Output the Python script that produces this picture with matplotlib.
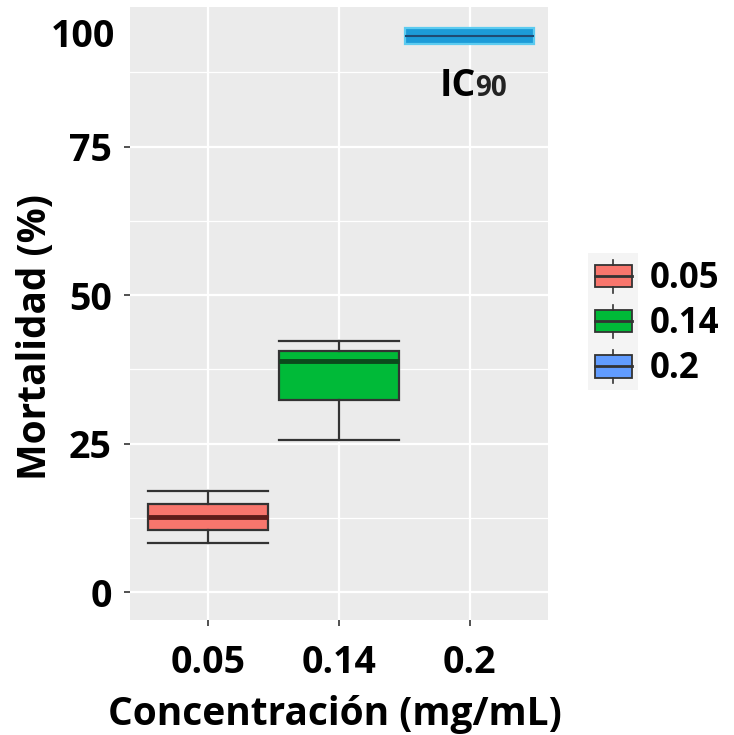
import matplotlib
matplotlib.use("Agg")
import matplotlib.pyplot as plt
from matplotlib.legend_handler import HandlerBase
from matplotlib.patches import Patch, Rectangle
from matplotlib.lines import Line2D
from matplotlib.transforms import blended_transform_factory

plt.rcParams["font.family"] = ["Open Sans", "DejaVu Sans"]
plt.rcParams["font.weight"] = "bold"

# ── data ─────────────────────────────────────────────────────────────────────
concentrations = ["0.05", "0.14", "0.2"]
whisker_low  = [8.2, 25.6, 92.2]
q1           = [10.4, 32.3, 92.2]
medians      = [12.6, 38.9, 93.7]
q3           = [14.8, 40.6, 95.0]
whisker_high = [17.0, 42.3, 95.0]

box_fill    = ["#F8766D", "#00BA38", "#1C9BD8"]
median_col  = ["#5E1D1A", "#0B4A1C", "#1F4A73"]
legend_fill = ["#F8766D", "#00BA38", "#619CFF"]
box_width   = [0.92, 0.92, 0.985]

y_ticks = [0, 25, 50, 75]
y_minor = [12.5, 37.5, 62.5, 87.5]


class BoxKeyHandler(HandlerBase):
    """Draw a little boxplot glyph as legend key."""
    def create_artists(self, legend, orig_handle, xdescent, ydescent,
                       width, height, fontsize, trans):
        bw, bh = 26.5, 16.0
        x0 = -xdescent + (width - bw) / 2
        y0 = -ydescent + (height - bh) / 2
        xc = x0 + bw / 2
        bg = Rectangle((x0 - 5, y0 - 9), bw + 10, bh + 18, facecolor="#F4F4F4",
                       edgecolor="none", transform=trans)
        box = Rectangle((x0, y0), bw, bh, facecolor=orig_handle.get_facecolor(),
                        edgecolor="#333333", linewidth=1.3, transform=trans)
        mid = Line2D([x0, x0 + bw], [y0 + bh / 2] * 2, color="#333333",
                     linewidth=2.0, transform=trans)
        up = Line2D([xc, xc], [y0 + bh, y0 + bh + 4], color="#333333",
                    linewidth=1.2, transform=trans)
        lo = Line2D([xc, xc], [y0 - 4, y0], color="#333333",
                    linewidth=1.2, transform=trans)
        return [bg, box, mid, up, lo]


fig = plt.figure(figsize=(7.34, 7.35), dpi=100)
ax = fig.add_axes([130 / 734, 1 - 620 / 735, 418 / 734, 613 / 735])
ax.set_facecolor("#EBEBEB")

positions = list(range(len(concentrations)))
stats = []
for i in positions:
    stats.append({"med": medians[i], "q1": q1[i], "q3": q3[i],
                  "whislo": whisker_low[i], "whishi": whisker_high[i],
                  "fliers": []})

for i in positions:
    edge = "#333333" if i < 2 else "#5CCBF0"
    ax.bxp([stats[i]], positions=[i], widths=box_width[i], patch_artist=True,
           showfliers=False, capwidths=box_width[i] if i < 2 else 0,
           boxprops=dict(facecolor=box_fill[i], edgecolor=edge, linewidth=1.6),
           medianprops=dict(color=median_col[i], linewidth=3.5 if i < 2 else 1.5),
           whiskerprops=dict(color="#333333", linewidth=1.6),
           capprops=dict(color="#333333", linewidth=1.6),
           zorder=3)

ax.set_xlim(-0.6, 2.6)
ax.set_ylim(-4.7, 98.5)
ax.set_xticks(positions)
ax.set_xticklabels(concentrations)
ax.set_yticks(y_ticks)
ax.set_yticks(y_minor, minor=True)
ax.grid(which="major", color="white", linewidth=1.6)
ax.grid(which="minor", color="white", linewidth=0.9)
ax.set_axisbelow(True)
for s in ax.spines.values():
    s.set_visible(False)
ax.tick_params(axis="both", which="major", length=4, width=1.2, color="#333333",
               labelsize=27, labelcolor="black")
ax.tick_params(axis="y", pad=9)
ax.tick_params(axis="x", pad=13)
ax.tick_params(which="minor", length=0)

ax.set_ylabel("Mortalidad (%)", fontsize=28, fontweight="bold")
ax.yaxis.set_label_coords(-0.179, 0.462)
ax.set_xlabel("Concentración (mg/mL)", fontsize=28, fontweight="bold")
ax.xaxis.set_label_coords(0.489, -0.122)

# pasted "100" label and IC90 note
yt = blended_transform_factory(ax.transAxes, ax.transData)
ax.text(-0.036, 93.5, "100", transform=yt, ha="right", va="center",
        fontsize=27, fontweight="bold")
ax.text(2.045, 83.5, "IC", ha="right", va="baseline", fontsize=27,
        fontweight="bold")
ax.text(2.045, 83.5, "90", ha="left", va="baseline", fontsize=20,
        fontweight="bold", color="#222222")

handles = [Patch(facecolor=c) for c in legend_fill]
fig.legend(handles, concentrations, handler_map={Patch: BoxKeyHandler()},
           loc="center left", bbox_to_anchor=(594 / 734, 1 - 324 / 735),
           frameon=False, handlelength=1.1, handleheight=1.0,
           handletextpad=0.5, labelspacing=0.25, borderpad=0, borderaxespad=0,
           prop={"weight": "bold", "size": 25})

fig.savefig("out.png", dpi=100)
